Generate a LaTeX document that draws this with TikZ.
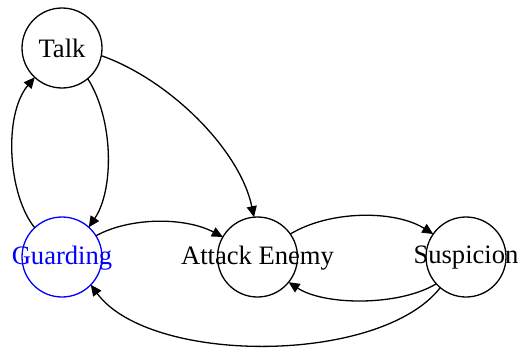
\documentclass[tikz,border=0pt]{standalone}
\usepackage{fontspec}
\setmainfont{Liberation Serif}
\usetikzlibrary{arrows.meta}
\begin{document}
\begin{tikzpicture}[x=1pt,y=-1pt,
  state/.style={circle,draw,line width=1.3pt,minimum size=80pt,inner sep=0pt,outer sep=0pt},
  statetext/.style={font=\fontsize{26.6}{30}\selectfont,inner sep=0pt},
  edge/.style={line width=1.3pt,-{Triangle[length=11pt,width=10pt]}}]
\useasboundingbox (0,0) rectangle (521,348);
% states
\node[state] (talk) at (62,48) {};
\node[state,draw=blue] (guard) at (62,257) {};
\node[state] (attack) at (257.5,257) {};
\node[state] (susp) at (466,257) {};
% state names
\node[statetext] (talkT) at (62,48) {Talk};
\node[statetext,text=blue] (guardT) at (62,258) {Guarding};
\node[statetext] (attackT) at (257.5,258) {Attack Enemy};
\node[statetext] (suspT) at (466,258) {Suspicion};
% transitions
\draw[edge] (guard.133) .. controls (8,195) and (3,115) .. (talk.227);
\draw[edge] (talk.-50) .. controls (114,120) and (114,190) .. (guard.48);
\draw[edge] (talk.-11) .. controls (170,80) and (240,150) .. (attack.95);
\draw[edge] (guard.32) .. controls (130,217) and (185,217) .. (attack.150);
\draw[edge] (attack.35) .. controls (330,210) and (395,210) .. (susp.145);
\draw[edge] (susp.222) .. controls (400,306) and (325,306) .. (attack.-39);
\draw[edge] (susp.230) .. controls (380,365) and (150,365) .. (guard.-44);
\end{tikzpicture}
\end{document}
